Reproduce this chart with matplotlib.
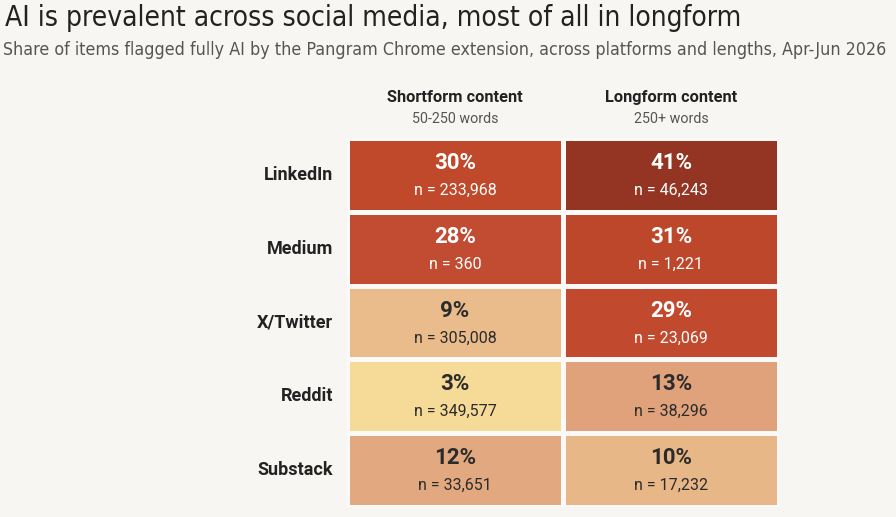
import numpy as np
import matplotlib.pyplot as plt
from matplotlib.colors import LinearSegmentedColormap, Normalize

# data
platforms = ['LinkedIn', 'Medium', 'X/Twitter', 'Reddit', 'Substack']
columns = ['Shortform content', 'Longform content']
col_subs = ['50-250 words', '250+ words']
share = np.array([[30, 41],
                  [28, 31],
                  [9, 29],
                  [3, 13],
                  [12, 10]])
counts = np.array([[233968, 46243],
                   [360, 1221],
                   [305008, 23069],
                   [349577, 38296],
                   [33651, 17232]])

bg = '#f7f6f3'
cmap = LinearSegmentedColormap.from_list('ai', [
    (0.0, '#f6da97'),
    (0.18, '#e9b889'),
    (0.26, '#dfa37c'),
    (0.65, '#c24d33'),
    (0.72, '#c0482a'),
    (1.0, '#933522'),
])
norm = Normalize(vmin=3, vmax=41)

fig = plt.figure(figsize=(8.96, 5.17), dpi=100, facecolor=bg)

fig.text(5/896, 1 - 18/517, 'AI is prevalent across social media, most of all in longform',
         fontsize=20.2, color='#222222', va='center', ha='left',
         family='DejaVu Sans', fontstretch='condensed')
fig.text(3/896, 1 - 50/517,
         'Share of items flagged fully AI by the Pangram Chrome extension, across platforms and lengths, Apr-Jun 2026',
         fontsize=12.75, color='#555555', va='center', ha='left',
         family='DejaVu Sans', fontstretch='condensed')

ax = fig.add_axes([347/896, 10/517, 432/896, 369/517])
ax.set_facecolor(bg)
ax.pcolormesh(share, cmap=cmap, norm=norm, edgecolors='#fbfaf8', linewidth=2.5)
ax.set_xlim(0, 2)
ax.set_ylim(5, 0)
for s in ax.spines.values():
    s.set_visible(False)
ax.set_xticks([])
ax.set_yticks([])

for i, name in enumerate(platforms):
    ax.text(-0.065, i + 0.5, name, ha='right', va='center', fontsize=13,
            fontweight='bold', color='#222222', family='Roboto')
    for j in range(2):
        v = share[i, j]
        tc = 'white' if v >= 25 else '#2b2b2b'
        ax.text(j + 0.5, i + 0.34, f'{v}%', ha='center', va='center', fontsize=16,
                fontweight='bold', color=tc, family='Roboto')
        ax.text(j + 0.5, i + 0.71, f'n = {counts[i, j]:,}', ha='center', va='center',
                fontsize=11.5, color=tc, family='Roboto')

for j, (c, sub) in enumerate(zip(columns, col_subs)):
    ax.text(j + 0.5, -0.55, c, ha='center', va='center', fontsize=11.8,
            fontweight='bold', color='#222222', family='Roboto')
    ax.text(j + 0.5, -0.26, sub, ha='center', va='center', fontsize=10.3,
            color='#555555', family='Roboto')

fig.savefig('out.png', dpi=100, facecolor=bg)
